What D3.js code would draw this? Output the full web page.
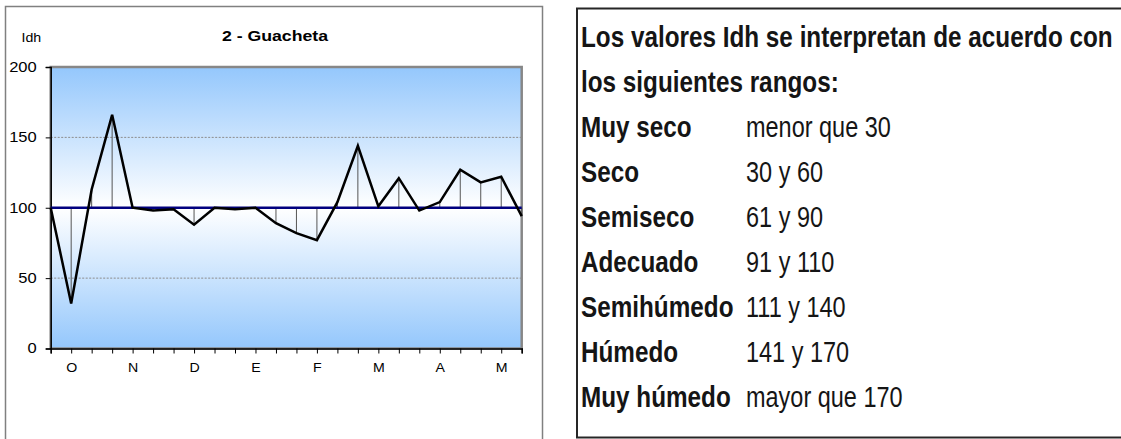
<!DOCTYPE html>
<html>
<head>
<meta charset="utf-8">
<script src="https://cdn.jsdelivr.net/npm/d3@7"></script>
<style>
body { margin: 0; background: #fff; }
svg { display: block; }
</style>
</head>
<body>
<div id="chart"></div>
<script>
// three dekads per month, October to May
var dekads = ["O1","O2","O3","N1","N2","N3","D1","D2","D3","E1","E2","E3",
              "F1","F2","F3","M1","M2","M3","A1","A2","A3","My1","My2","My3"];
var idh = [100, 32, 113, 166, 100, 98, 99, 88, 100, 99, 100, 89,
           82, 77, 104, 144, 101, 121, 98, 104, 127, 118, 122, 94];
var monthLabels = ["O","N","D","E","F","M","A","M"];
var yTicks = [0, 50, 100, 150, 200];
var gridValues = [50, 150];
var baseValue = 100;
var chartTitle = "2 - Guacheta";
var yLabel = "Idh";

var introLines = ["Los valores Idh se interpretan de acuerdo con", "los siguientes rangos:"];
var rangeNames = ["Muy seco", "Seco", "Semiseco", "Adecuado", "Semihúmedo", "Húmedo", "Muy húmedo"];
var rangeValues = ["menor que 30", "30 y 60", "61 y 90", "91 y 110", "111 y 140", "141 y 170", "mayor que 170"];

var width = 1121, height = 439;
var font = "'Liberation Sans', Arial, sans-serif";
var sx = 1.18;   // the chart text is stretched sideways in the original

const svg = d3.select("#chart").append("svg")
    .attr("width", width)
    .attr("height", height);

var plot = {left: 50.7, right: 521.7, top: 67, bottom: 348.5};
var x = d3.scalePoint().domain(dekads).range([plot.left, plot.right]);
var y = d3.scaleLinear().domain([0, 200]).range([plot.bottom, plot.top]);

// chart frame
svg.append("rect")
    .attr("x", 5.5).attr("y", 6.5)
    .attr("width", 537).attr("height", 460)
    .attr("fill", "none")
    .attr("stroke", "#808080")
    .attr("stroke-width", 1.5);

// plot background
var grad = svg.append("defs").append("linearGradient")
    .attr("id", "bg").attr("x1", 0).attr("y1", 0).attr("x2", 0).attr("y2", 1);
grad.append("stop").attr("offset", "0%").attr("stop-color", "#94c7fc");
grad.append("stop").attr("offset", "50%").attr("stop-color", "#ffffff");
grad.append("stop").attr("offset", "100%").attr("stop-color", "#94c7fc");

svg.append("rect")
    .attr("x", plot.left).attr("y", plot.top)
    .attr("width", plot.right - plot.left).attr("height", plot.bottom - plot.top)
    .attr("fill", "url(#bg)")
    .attr("stroke", "#878787")
    .attr("stroke-width", 2.5);

// grid
svg.selectAll(".grid")
    .data(gridValues)
    .enter().append("line")
    .attr("class", "grid")
    .attr("x1", plot.left).attr("x2", plot.right)
    .attr("y1", function (d) { return y(d); })
    .attr("y2", function (d) { return y(d); })
    .attr("stroke", "#8c8c8c")
    .attr("stroke-width", 1)
    .attr("stroke-dasharray", "2,1.5");

// drop lines to 100
svg.selectAll(".drop")
    .data(idh)
    .enter().append("line")
    .attr("class", "drop")
    .attr("x1", function (d, i) { return x(dekads[i]); })
    .attr("x2", function (d, i) { return x(dekads[i]); })
    .attr("y1", y(baseValue))
    .attr("y2", function (d) { return y(d); })
    .attr("stroke", "#555")
    .attr("stroke-width", 1);

// axes
var yAxis = svg.append("g")
    .attr("transform", `translate(${plot.left},0)`)
    .call(d3.axisLeft(y).tickValues(yTicks).tickSize(5).tickPadding(9));
var xAxis = svg.append("g")
    .attr("transform", `translate(0,${plot.bottom})`)
    .call(d3.axisBottom(x).tickSize(5).tickPadding(9.5)
        .tickFormat(function (d, i) { return i % 3 == 1 ? monthLabels[(i - 1) / 3] : ""; }));

[yAxis, xAxis].forEach(function (ax) {
    ax.select(".domain").attr("stroke", "#000").attr("stroke-width", 1.5);
    ax.selectAll(".tick line").attr("stroke", "#000");
    ax.selectAll("text").attr("fill", "#000").style("font-family", font);
});
yAxis.selectAll("text")
    .style("font-size", "14px")
    .attr("x", -14 / sx)
    .attr("transform", `scale(${sx},1)`);
xAxis.selectAll("text")
    .style("font-size", "12px")
    .attr("transform", `scale(${sx},1)`);

// 100 line and series
svg.append("line")
    .attr("x1", plot.left).attr("x2", plot.right)
    .attr("y1", y(baseValue)).attr("y2", y(baseValue))
    .attr("stroke", "#00007f")
    .attr("stroke-width", 2.5);

var line = d3.line()
    .x(function (d, i) { return x(dekads[i]); })
    .y(function (d) { return y(d); });
svg.append("path")
    .datum(idh)
    .attr("d", line)
    .attr("fill", "none")
    .attr("stroke", "#000")
    .attr("stroke-width", 2.5);

// title and unit
svg.append("text")
    .attr("transform", `translate(275,41) scale(${sx},1)`)
    .attr("text-anchor", "middle")
    .style("font-family", font).style("font-size", "15px").style("font-weight", "bold")
    .text(chartTitle);
svg.append("text")
    .attr("transform", `translate(21.5,41.5) scale(${sx},1)`)
    .style("font-family", font).style("font-size", "12px")
    .text(yLabel);

// ranges panel
svg.append("rect")
    .attr("x", 577).attr("y", 8.5)
    .attr("width", 570).attr("height", 429)
    .attr("fill", "none")
    .attr("stroke", "#262626")
    .attr("stroke-width", 2);

var panel = svg.append("g");
var probe = panel.append("text")
    .style("font-family", font).style("font-size", "30px").style("font-weight", "bold")
    .text(introLines[0]);
var k = 532 / probe.node().getComputedTextLength();   // narrow font look
probe.remove();

var textX = 581, valueX = 746, firstBase = 47, step = 45;
function panelText(txt, tx, ty, bold) {
    panel.append("text")
        .attr("transform", `translate(${tx},${ty}) scale(${k},1)`)
        .style("font-family", font)
        .style("font-size", bold ? "30px" : "29px")
        .style("font-weight", bold ? "bold" : "normal")
        .attr("fill", "#151515")
        .text(txt);
}
introLines.forEach(function (t, i) { panelText(t, textX, firstBase + i * step, true); });
rangeNames.forEach(function (t, i) {
    var ty = firstBase + (i + 2) * step;
    panelText(t, textX, ty, true);
    panelText(rangeValues[i], valueX, ty, false);
});
</script>
</body>
</html>
